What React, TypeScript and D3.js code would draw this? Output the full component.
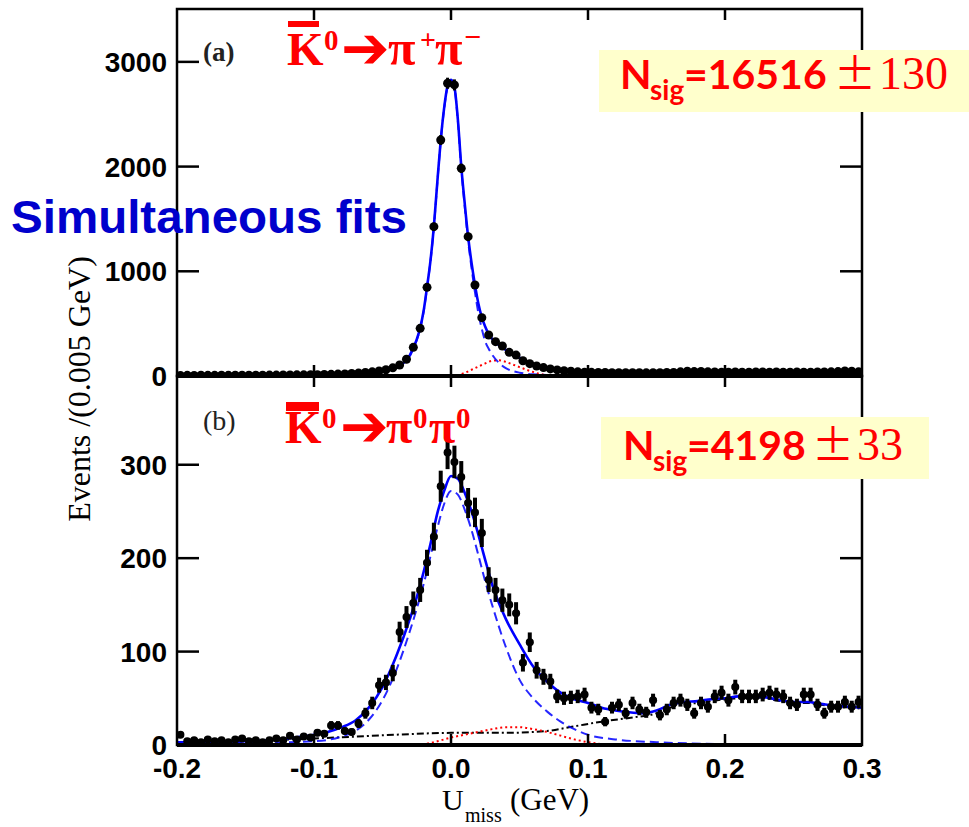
import React from "react";
import * as d3 from "d3";

const W = 969;
const H = 827;

// ---------- axes / ticks ----------
const xTicks = [-0.2, -0.1, 0.0, 0.1, 0.2, 0.3];
const xTickLabels = ["-0.2", "-0.1", "0.0", "0.1", "0.2", "0.3"];
const yTicksA = [0, 1000, 2000, 3000];
const yTicksB = [0, 100, 200, 300];

// bin centres (0.005 GeV bins from -0.2 to 0.3)
const binCenters = d3.range(100).map((i) => -0.1975 + i * 0.005);

// ---------- panel (a): K0bar -> pi+ pi- ----------
const countsA = [
  5, 6, 5, 7, 6, 6, 7, 6, 8, 7, 8, 7, 8, 9, 9, 10, 10, 11, 11, 12,
  13, 14, 16, 18, 20, 24, 28, 33, 40, 48,
  60, 78, 105, 160, 274, 455, 847, 1426, 2254, 2796,
  2780, 1983, 1331, 869, 557, 392, 328, 287, 226, 200,
  146, 118, 95, 80, 68, 58, 50, 45, 40, 37,
  35, 34, 33, 32, 32, 31, 32, 31, 30, 31,
  32, 33, 34, 40, 45, 42, 44, 40, 38, 36,
  37, 38, 36, 37, 38, 39, 37, 38, 36, 37,
  38, 36, 37, 38, 39, 40, 42, 48, 45, 40,
];

const fitTotalA: [number, number][] = [
  [-0.2, 5], [-0.15, 8], [-0.1, 13], [-0.08, 20], [-0.06, 38], [-0.05, 55],
  [-0.04, 90], [-0.035, 125], [-0.0325, 155], [-0.03, 200], [-0.0275, 270],
  [-0.025, 350], [-0.0225, 460], [-0.02, 620], [-0.0175, 850], [-0.015, 1100],
  [-0.0125, 1430], [-0.01, 1850], [-0.0075, 2250], [-0.005, 2560], [-0.0025, 2770],
  [0, 2830], [0.0025, 2760], [0.005, 2450], [0.0075, 2000], [0.01, 1650],
  [0.0125, 1330], [0.015, 1080], [0.0175, 870], [0.02, 690], [0.0225, 560],
  [0.025, 470], [0.0275, 400], [0.03, 355], [0.035, 295], [0.04, 250],
  [0.045, 210], [0.05, 175], [0.055, 140], [0.06, 110], [0.07, 78], [0.08, 58],
  [0.09, 45], [0.1, 38], [0.12, 34], [0.15, 34], [0.2, 37], [0.25, 38], [0.3, 38],
];

const fitSigA: [number, number][] = [
  [-0.2, 2], [-0.15, 4], [-0.1, 8], [-0.08, 14], [-0.06, 30], [-0.05, 47],
  [-0.04, 82], [-0.035, 117], [-0.0325, 147], [-0.03, 192], [-0.0275, 262],
  [-0.025, 342], [-0.0225, 452], [-0.02, 612], [-0.0175, 842], [-0.015, 1092],
  [-0.0125, 1422], [-0.01, 1842], [-0.0075, 2242], [-0.005, 2552], [-0.0025, 2762],
  [0, 2822], [0.0025, 2750], [0.005, 2435], [0.0075, 1980], [0.01, 1620],
  [0.0125, 1290], [0.015, 1030], [0.0175, 800], [0.02, 600], [0.0225, 450],
  [0.025, 330], [0.0275, 260], [0.03, 205], [0.035, 125], [0.04, 75],
  [0.045, 48], [0.05, 32], [0.06, 16], [0.08, 6], [0.1, 3], [0.15, 1], [0.3, 0],
];

const fitPeakBkgA: [number, number][] = [
  [-0.2, 0], [0, 0], [0.005, 8], [0.01, 30], [0.015, 60], [0.02, 90],
  [0.025, 120], [0.03, 145], [0.035, 150], [0.04, 135], [0.045, 110],
  [0.05, 85], [0.055, 60], [0.06, 38], [0.065, 20], [0.07, 9], [0.08, 2],
  [0.09, 0], [0.3, 0],
];

// ---------- panel (b): K0bar -> pi0 pi0 ----------
const countsB = [
  11, 4, 5, 3, 6, 4, 5, 3, 6, 7,
  4, 5, 3, 5, 7, 5, 10, 6, 9, 8,
  13, 12, 21, 21, 15, 14, 23, 34, 45, 64,
  67, 77, 121, 137, 152, 166, 195, 223, 277, 313,
  303, 287, 259, 249, 227, 177, 166, 155, 150, 141,
  88, 110, 80, 73, 68, 52, 50, 51, 52, 54,
  40, 38, 25, 40, 43, 34, 45, 38, 35, 48,
  32, 38, 45, 48, 43, 34, 45, 41, 52, 56,
  48, 62, 52, 52, 52, 54, 56, 54, 52, 45,
  43, 54, 54, 43, 34, 41, 41, 46, 41, 46,
];

const fitTotalB: [number, number][] = [
  [-0.2, 3], [-0.15, 4], [-0.12, 7], [-0.1, 11], [-0.09, 14], [-0.08, 19],
  [-0.07, 26], [-0.06, 40], [-0.05, 62], [-0.04, 95], [-0.03, 135],
  [-0.025, 158], [-0.02, 185], [-0.015, 215], [-0.01, 248], [-0.005, 272],
  [0, 288], [0.005, 285], [0.01, 270], [0.015, 250], [0.02, 225], [0.025, 198],
  [0.03, 172], [0.04, 135], [0.05, 108], [0.06, 84], [0.07, 68], [0.08, 56],
  [0.09, 49], [0.1, 45], [0.11, 40], [0.12, 37], [0.13, 35], [0.14, 34],
  [0.15, 37], [0.16, 43], [0.17, 46], [0.18, 47], [0.19, 49], [0.2, 50],
  [0.21, 52], [0.22, 52], [0.23, 51], [0.24, 48], [0.25, 46], [0.26, 46],
  [0.27, 44], [0.28, 42], [0.29, 41], [0.3, 40],
];

const fitSigB: [number, number][] = [
  [-0.2, 1], [-0.15, 2], [-0.1, 4], [-0.08, 9], [-0.07, 15], [-0.06, 27],
  [-0.05, 48], [-0.04, 80], [-0.03, 122], [-0.02, 172], [-0.01, 232],
  [-0.005, 258], [0, 272], [0.005, 268], [0.01, 252], [0.015, 230],
  [0.02, 203], [0.025, 175], [0.03, 150], [0.04, 105], [0.05, 70], [0.06, 50],
  [0.07, 36], [0.08, 25], [0.09, 17], [0.1, 11], [0.12, 6], [0.15, 3],
  [0.2, 1], [0.3, 0],
];

const fitPeakBkgB: [number, number][] = [
  [-0.2, 0], [-0.05, 0], [-0.02, 1], [-0.01, 4], [0, 8], [0.01, 11],
  [0.02, 14], [0.03, 17], [0.04, 19], [0.05, 19], [0.06, 17], [0.07, 14],
  [0.08, 10], [0.09, 6], [0.1, 3], [0.11, 1], [0.12, 0], [0.3, 0],
];

const fitCombBkgB: [number, number][] = [
  [-0.2, 2], [-0.15, 4], [-0.1, 7], [-0.07, 9], [-0.04, 11], [0, 13],
  [0.04, 13], [0.07, 15], [0.09, 20], [0.11, 25], [0.13, 29], [0.15, 34],
  [0.16, 40], [0.17, 44], [0.18, 45], [0.19, 47], [0.2, 49], [0.21, 50],
  [0.22, 51], [0.23, 50], [0.24, 47], [0.25, 45], [0.26, 45], [0.27, 43],
  [0.28, 41], [0.29, 40], [0.3, 39],
];

// ---------- layout ----------
const X0 = 177;
const X1 = 862;
const A_TOP = 9;
const A_BOT = 376;
const B_TOP = 376;
const B_BOT = 745;

const x = d3.scaleLinear().domain([-0.2, 0.3]).range([X0, X1]);
const yA = d3.scaleLinear().domain([0, 3505]).range([A_BOT, A_TOP]);
const yB = d3.scaleLinear().domain([0, 395]).range([B_BOT, B_TOP]);

const BLUE = "#0000ff";
const RED = "#ff0000";

function curvePath(pts: [number, number][], y: d3.ScaleLinear<number, number>) {
  const line = d3
    .line<[number, number]>()
    .x((d) => x(d[0]))
    .y((d) => y(d[1]))
    .curve(d3.curveMonotoneX);
  return line(pts) || "";
}

function Panel({
  id,
  y,
  top,
  bot,
  yTicks,
  counts,
  total,
  sig,
  peakBkg,
  combBkg,
  markerR,
  barW,
  showXLabels,
}: any) {
  const halfBin = x(0.0025) - x(0);
  return (
    <g>
      <defs>
        <clipPath id={id}>
          <rect x={X0} y={top} width={X1 - X0} height={bot - top} />
        </clipPath>
      </defs>
      <g clipPath={`url(#${id})`}>
        {combBkg && (
          <path d={curvePath(combBkg, y)} fill="none" stroke="#000" strokeWidth={2} strokeDasharray="7 3 2 3" />
        )}
        <path d={curvePath(peakBkg, y)} fill="none" stroke={RED} strokeWidth={2} strokeDasharray="2 3" />
        <path d={curvePath(sig, y)} fill="none" stroke={BLUE} strokeWidth={2} strokeDasharray="9 5" opacity={0.85} />
        <path d={curvePath(total, y)} fill="none" stroke={BLUE} strokeWidth={2.6} />
        {counts.map((c: number, i: number) => {
          const cx = x(binCenters[i]);
          const err = Math.sqrt(c);
          return (
            <g key={i}>
              <line x1={cx} x2={cx} y1={y(c + err)} y2={y(Math.max(0, c - err))} stroke="#000" strokeWidth={barW} />
              <line x1={cx - halfBin} x2={cx + halfBin} y1={y(c)} y2={y(c)} stroke="#000" strokeWidth={barW} />
              <circle cx={cx} cy={y(c)} r={markerR} fill="#000" />
            </g>
          );
        })}
      </g>
      {/* frame */}
      <rect x={X0} y={top} width={X1 - X0} height={bot - top} fill="none" stroke="#000" strokeWidth={2.5} />
      <line x1={X0} x2={X1} y1={bot} y2={bot} stroke="#000" strokeWidth={4} />
      {/* y ticks */}
      {yTicks.map((t: number) => (
        <g key={t}>
          <line x1={X0} x2={X0 + 22} y1={y(t)} y2={y(t)} stroke="#000" strokeWidth={2.5} />
          <line x1={X1 - 22} x2={X1} y1={y(t)} y2={y(t)} stroke="#000" strokeWidth={2.5} />
          <text
            x={X0 - 10}
            y={y(t) + 10}
            textAnchor="end"
            fontFamily="'Liberation Sans', Arial, sans-serif"
            fontWeight="bold"
            fontSize={28}
            fill="#000"
          >
            {t}
          </text>
        </g>
      ))}
      {/* x ticks */}
      {xTicks.slice(1, -1).map((t: number) => (
        <g key={t}>
          <line x1={x(t)} x2={x(t)} y1={top} y2={top + 11} stroke="#000" strokeWidth={2.5} />
          <line x1={x(t)} x2={x(t)} y1={bot - 11} y2={bot} stroke="#000" strokeWidth={2.5} />
        </g>
      ))}
      {showXLabels &&
        xTicks.map((t: number, i: number) => (
          <text
            key={t}
            x={x(t)}
            y={778}
            textAnchor="middle"
            fontFamily="'Liberation Sans', Arial, sans-serif"
            fontWeight="bold"
            fontSize={28}
            fill="#000"
          >
            {xTickLabels[i]}
          </text>
        ))}
    </g>
  );
}

function NsigBox({ bx, by, bw, bh, tx, ty, value, err, pmX, errX }: any) {
  return (
    <g>
      <rect x={bx} y={by} width={bw} height={bh} fill="#ffffcc" />
      <text fill={RED} fontFamily="Lato, 'Open Sans', sans-serif" fontWeight="bold">
        <tspan x={tx} y={ty} fontSize={41}>N</tspan>
        <tspan x={tx + 30} y={ty + 11} fontSize={28}>sig</tspan>
        <tspan x={tx + 64} y={ty} fontSize={41}>{"=" + value}</tspan>
      </text>
      <text x={pmX} y={ty} fill={RED} fontFamily="'Noto Sans CJK JP', sans-serif" fontWeight="normal" fontSize={42}>
        ±
      </text>
      <text x={errX} y={ty} fill={RED} fontFamily="'Liberation Serif', serif" fontWeight="normal" fontSize={46}>
        {err}
      </text>
    </g>
  );
}

export default function App() {
  return (
    <svg width={W} height={H} style={{ position: "absolute", left: 0, top: 0, background: "#fff" }}>
      <rect x={0} y={0} width={W} height={H} fill="#fff" />
      <Panel
        id="clipA"
        y={yA}
        top={A_TOP}
        bot={A_BOT}
        yTicks={yTicksA}
        counts={countsA}
        total={fitTotalA}
        sig={fitSigA}
        peakBkg={fitPeakBkgA}
        combBkg={null}
        markerR={4.5}
        barW={3}
        showXLabels={false}
      />
      <Panel
        id="clipB"
        y={yB}
        top={B_TOP}
        bot={B_BOT}
        yTicks={yTicksB}
        counts={countsB}
        total={fitTotalB}
        sig={fitSigB}
        peakBkg={fitPeakBkgB}
        combBkg={fitCombBkgB}
        markerR={4}
        barW={4}
        showXLabels={true}
      />

      {/* panel labels */}
      <text x={203} y={61} fontFamily="'Liberation Serif', serif" fontWeight="bold" fontSize={27} fill="#222">
        (a)
      </text>
      <text x={203} y={430} fontFamily="'Liberation Serif', serif" fontSize={28} fill="#222">
        (b)
      </text>

      {/* decay titles */}
      <rect x={288} y={21} width={31} height={6} fill={RED} />
      <text fill={RED} fontFamily="'Liberation Serif', serif" fontWeight="bold">
        <tspan x={287} y={65} fontSize={47}>K</tspan>
        <tspan x={324} y={50} fontSize={29}>0</tspan>
        <tspan x={388} y={65} fontSize={50}>π</tspan>
        <tspan x={420} y={49} fontSize={28}>+</tspan>
        <tspan x={435} y={65} fontSize={50}>π</tspan>
        <tspan x={464} y={47} fontSize={30}>−</tspan>
      </text>
      <text x={341} y={68} fill={RED} fontFamily="'DejaVu Sans', sans-serif" fontWeight="bold" fontSize={58}>
        ➔
      </text>

      <rect x={286} y={402} width={33} height={9} fill={RED} />
      <text fill={RED} fontFamily="'Liberation Serif', serif" fontWeight="bold">
        <tspan x={285} y={443} fontSize={47}>K</tspan>
        <tspan x={322} y={428} fontSize={29}>0</tspan>
        <tspan x={386} y={443} fontSize={48}>π</tspan>
        <tspan x={413} y={428} fontSize={29}>0</tspan>
        <tspan x={429} y={443} fontSize={48}>π</tspan>
        <tspan x={456} y={428} fontSize={29}>0</tspan>
      </text>
      <text x={340} y={446} fill={RED} fontFamily="'DejaVu Sans', sans-serif" fontWeight="bold" fontSize={58}>
        ➔
      </text>

      {/* N_sig boxes */}
      <NsigBox bx={599} by={50} bw={370} bh={62} tx={620} ty={89} value="16516" err="130" pmX={834} errX={879} />
      <NsigBox bx={601} by={417} bw={328} bh={62} tx={623} ty={460} value="4198" err="33" pmX={812} errX={857} />

      {/* Simultaneous fits */}
      <text
        x={11}
        y={233}
        fill="#0000cc"
        fontFamily="'Liberation Sans', Arial, sans-serif"
        fontWeight="bold"
        fontSize={46}
        textLength={396}
        lengthAdjust="spacingAndGlyphs"
      >
        Simultaneous fits
      </text>

      {/* axis titles */}
      <text
        transform="translate(90,389) rotate(-90)"
        textAnchor="middle"
        fontFamily="'Liberation Serif', serif"
        fontSize={32}
        fill="#000"
      >
        Events /(0.005 GeV)
      </text>
      <text fill="#000" fontFamily="'Liberation Serif', serif">
        <tspan x={442} y={810} fontSize={30}>U</tspan>
        <tspan x={465} y={822} fontSize={20}>miss</tspan>
        <tspan x={510} y={810} fontSize={31}>(GeV)</tspan>
      </text>
    </svg>
  );
}
